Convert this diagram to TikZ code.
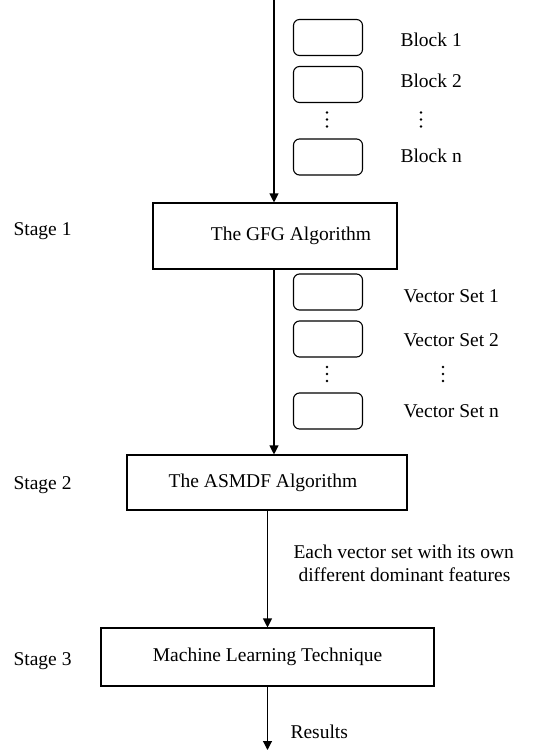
\documentclass[tikz,border=0pt]{standalone}
\usepackage{fontspec}
\setmainfont{Liberation Serif}
\usetikzlibrary{arrows.meta}
\begin{document}
\begin{tikzpicture}[x=1pt,y=-1pt,
  line width=1.1pt,
  txt/.style={font=\fontsize{19.5}{22}\selectfont},
  box/.style={draw, rectangle, inner sep=0pt, txt},
  small/.style={draw, rounded corners=6pt, minimum width=69pt, minimum height=36pt, inner sep=0pt},
  lbl/.style={txt, inner sep=0pt, anchor=base west},
  dotcol/.style={inner sep=0pt, minimum width=4pt, minimum height=18pt,
    path picture={\fill (path picture bounding box.center) ++(0,-7) circle (1.3pt)
      (path picture bounding box.center) circle (1.3pt)
      (path picture bounding box.center) ++(0,7) circle (1.3pt);}},
  arr/.style={-{Triangle[length=9pt,width=9pt]}}]
\useasboundingbox (0,0) rectangle (538,752);
% main boxes
\node[box, minimum width=244pt, minimum height=66pt] (gfg) at (275,236) {\hspace*{32pt}The GFG Algorithm};
\node[box, minimum width=280pt, minimum height=55pt] (asmdf) at (267,482.5) {The ASMDF Algorithm\hspace*{8pt}};
\node[box, minimum width=333pt, minimum height=58pt] (ml) at (267.5,657) {Machine Learning Technique};
% stage labels
\node[lbl] (s1) at (13,235) {Stage 1};
\node[lbl] (s2) at (13,489) {Stage 2};
\node[lbl] (s3) at (13,665) {Stage 3};
% blocks
\node[small] (b1) at (328,37.5) {};
\node[small] (b2) at (328,84.5) {};
\node[dotcol] (bd) at (327,119.5) {};
\node[small] (bn) at (328,157) {};
\node[lbl] (lb1) at (400,47) {Block 1};
\node[lbl] (lb2) at (400,87) {Block 2};
\node[dotcol] (lbd) at (421,119.5) {};
\node[lbl] (lbn) at (400,162) {Block n};
% vector sets
\node[small] (v1) at (328,292) {};
\node[small] (v2) at (328,339) {};
\node[dotcol] (vd1) at (327,374) {};
\node[small] (vn) at (328,411) {};
\node[lbl] (lv1) at (403,302) {Vector Set 1};
\node[lbl] (lv2) at (403,346) {Vector Set 2};
\node[dotcol] (lvd) at (443,374) {};
\node[lbl] (lvn) at (403,417) {Vector Set n};
% edge labels
\node[lbl] (e1) at (293,558) {Each vector set with its own};
\node[lbl] (e2) at (298,581) {different dominant features};
\node[lbl] (res) at (290,738) {Results};
% connectors
\coordinate (top) at (274,0);
\coordinate (out) at (267.5,750);
\draw[arr] (top) -- (top |- gfg.north);
\draw[arr] (gfg.south -| top) -- (asmdf.north -| top);
\draw[arr] (asmdf.south -| ml.north) -- (ml.north);
\draw[arr] (ml.south) -- (out);
\end{tikzpicture}
\end{document}
